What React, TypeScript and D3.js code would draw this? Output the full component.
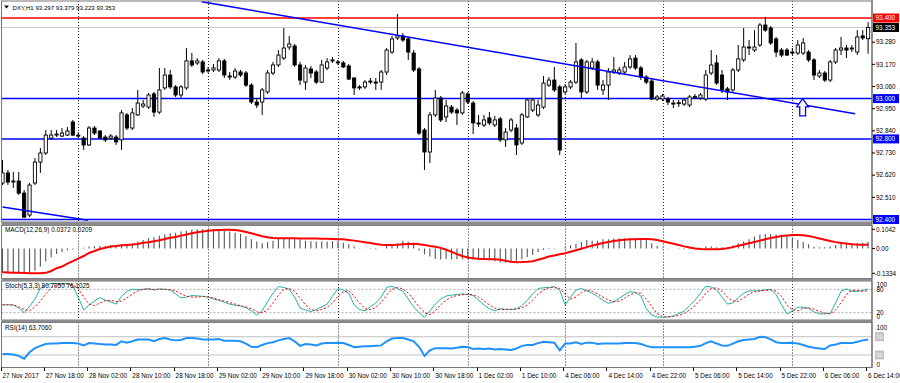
import React from "react";
import * as d3 from "d3";

// ---------- data ----------
const timeLabels = [
  "27 Nov 2017", "27 Nov 18:00", "28 Nov 02:00", "28 Nov 10:00", "28 Nov 18:00",
  "29 Nov 02:00", "29 Nov 10:00", "29 Nov 18:00", "30 Nov 02:00", "30 Nov 10:00",
  "30 Nov 18:00", "1 Dec 02:00", "1 Dec 10:00", "4 Dec 06:00", "4 Dec 14:00",
  "4 Dec 22:00", "5 Dec 06:00", "5 Dec 14:00", "5 Dec 22:00", "6 Dec 06:00", "6 Dec 14:00",
];
const labelStep = 8;
const gridBars = [14, 38, 62, 86, 104, 122, 146];

const opens = [
  92.581, 92.631, 92.586, 92.591, 92.531, 92.422, 92.581, 92.685, 92.730, 92.804,
  92.819, 92.814, 92.819, 92.884, 92.819, 92.804, 92.770, 92.854, 92.839, 92.809,
  92.804, 92.809, 92.795, 92.919, 92.854, 92.919, 92.963, 92.958, 93.023, 92.933,
  93.053, 93.117, 93.058, 93.018, 93.053, 93.187, 93.177, 93.182, 93.142, 93.142,
  93.142, 93.187, 93.112, 93.107, 93.132, 93.127, 93.067, 92.983, 92.983, 93.033,
  93.127, 93.167, 93.201, 93.256, 93.261, 93.167, 93.082, 93.147, 93.132, 93.082,
  93.152, 93.187, 93.182, 93.177, 93.162, 93.102, 93.058, 93.058, 93.087, 93.082,
  93.082, 93.132, 93.231, 93.301, 93.311, 93.296, 93.226, 93.147, 92.844, 92.735,
  92.919, 93.003, 92.909, 92.958, 92.943, 92.929, 93.023, 92.978, 92.879, 92.869,
  92.904, 92.869, 92.899, 92.795, 92.844, 92.854, 92.780, 92.909, 92.943, 92.919,
  92.958, 93.067, 93.092, 93.058, 93.033, 93.058, 93.082, 93.192, 93.033, 93.152,
  93.182, 93.043, 93.067, 93.132, 93.127, 93.132, 93.157, 93.201, 93.152, 93.107,
  93.087, 92.998, 92.998, 92.998, 92.978, 92.978, 92.973, 92.968, 93.008, 93.003,
  92.998, 93.127, 93.177, 93.117, 93.048, 93.043, 93.142, 93.192, 93.256, 93.241,
  93.266, 93.365, 93.350, 93.296, 93.241, 93.241, 93.231, 93.226, 93.226, 93.231,
  93.192, 93.112, 93.127, 93.092, 93.182, 93.241, 93.251, 93.246, 93.231, 93.311,
  93.297,
];
const highs = [
  92.695, 92.646, 92.636, 92.636, 92.546, 92.581, 92.705, 92.755, 92.844, 92.844,
  92.844, 92.854, 92.859, 92.894, 92.834, 92.814, 92.864, 92.864, 92.844, 92.819,
  92.824, 92.819, 92.943, 92.929, 92.953, 93.043, 92.993, 93.028, 93.033, 93.152,
  93.152, 93.142, 93.067, 93.067, 93.251, 93.226, 93.201, 93.192, 93.157, 93.172,
  93.201, 93.197, 93.132, 93.152, 93.142, 93.137, 93.077, 93.003, 93.053, 93.142,
  93.182, 93.241, 93.350, 93.311, 93.271, 93.182, 93.167, 93.162, 93.142, 93.192,
  93.201, 93.206, 93.192, 93.187, 93.172, 93.107, 93.067, 93.092, 93.102, 93.102,
  93.142, 93.251, 93.311, 93.420, 93.326, 93.306, 93.241, 93.157, 92.854, 92.934,
  93.043, 93.013, 92.993, 92.968, 92.953, 93.038, 93.033, 92.988, 92.919, 92.919,
  92.934, 92.914, 92.909, 92.854, 92.904, 92.874, 92.929, 93.003, 93.003, 92.993,
  93.112, 93.107, 93.157, 93.067, 93.072, 93.092, 93.276, 93.201, 93.192, 93.201,
  93.192, 93.092, 93.152, 93.206, 93.157, 93.182, 93.216, 93.216, 93.162, 93.117,
  93.097, 93.018, 93.023, 93.008, 92.993, 92.993, 93.003, 93.018, 93.023, 93.028,
  93.142, 93.241, 93.216, 93.142, 93.058, 93.152, 93.266, 93.350, 93.291, 93.340,
  93.375, 93.405, 93.360, 93.306, 93.251, 93.251, 93.251, 93.291, 93.301, 93.241,
  93.201, 93.142, 93.137, 93.192, 93.251, 93.306, 93.266, 93.266, 93.340, 93.340,
  93.379,
];
const lows = [
  92.571, 92.571, 92.556, 92.522, 92.407, 92.412, 92.571, 92.631, 92.720, 92.795,
  92.809, 92.809, 92.814, 92.814, 92.804, 92.745, 92.765, 92.819, 92.804, 92.785,
  92.795, 92.770, 92.745, 92.844, 92.844, 92.914, 92.953, 92.948, 92.909, 92.924,
  93.043, 93.048, 93.008, 93.003, 93.043, 93.157, 93.167, 93.122, 93.127, 93.132,
  93.132, 93.102, 93.092, 93.097, 93.107, 93.058, 92.973, 92.953, 92.919, 93.023,
  93.117, 93.157, 93.192, 93.241, 93.157, 93.067, 93.043, 93.102, 93.072, 93.077,
  93.142, 93.177, 93.167, 93.152, 93.092, 93.018, 93.043, 93.048, 93.072, 93.043,
  93.043, 93.117, 93.221, 93.291, 93.281, 93.192, 93.132, 92.819, 92.646, 92.680,
  92.909, 92.884, 92.884, 92.924, 92.869, 92.919, 92.973, 92.824, 92.859, 92.859,
  92.869, 92.859, 92.785, 92.760, 92.834, 92.720, 92.770, 92.904, 92.933, 92.909,
  92.948, 93.058, 93.033, 92.720, 93.023, 93.048, 93.072, 93.003, 93.023, 93.142,
  93.043, 93.018, 92.993, 93.122, 93.117, 93.122, 93.147, 93.142, 93.092, 93.072,
  92.993, 92.988, 92.988, 92.968, 92.953, 92.958, 92.963, 92.958, 92.998, 92.993,
  92.988, 93.117, 93.067, 93.028, 92.993, 93.033, 93.132, 93.182, 93.216, 93.231,
  93.256, 93.331, 93.266, 93.206, 93.206, 93.211, 93.216, 93.216, 93.216, 93.182,
  93.092, 93.102, 93.082, 93.082, 93.172, 93.216, 93.201, 93.231, 93.216, 93.291,
  93.223,
];
const closes = [
  92.631, 92.586, 92.591, 92.531, 92.412, 92.571, 92.685, 92.730, 92.819, 92.819,
  92.824, 92.829, 92.839, 92.819, 92.814, 92.770, 92.854, 92.829, 92.804, 92.795,
  92.814, 92.785, 92.929, 92.854, 92.929, 92.978, 92.973, 93.018, 92.933, 93.043,
  93.117, 93.058, 93.018, 93.058, 93.187, 93.167, 93.187, 93.132, 93.140, 93.152,
  93.187, 93.117, 93.110, 93.137, 93.117, 93.067, 92.983, 92.968, 93.043, 93.127,
  93.167, 93.216, 93.251, 93.271, 93.167, 93.092, 93.152, 93.127, 93.082, 93.167,
  93.182, 93.192, 93.177, 93.157, 93.097, 93.053, 93.053, 93.082, 93.085, 93.080,
  93.132, 93.241, 93.296, 93.311, 93.291, 93.231, 93.142, 92.829, 92.735, 92.919,
  93.003, 92.894, 92.963, 92.933, 92.929, 93.028, 92.983, 92.879, 92.874, 92.894,
  92.879, 92.894, 92.795, 92.834, 92.894, 92.770, 92.919, 92.993, 92.993, 92.968,
  93.077, 93.092, 93.043, 92.745, 93.058, 93.082, 93.182, 93.033, 93.182, 93.182,
  93.067, 93.067, 93.132, 93.142, 93.142, 93.157, 93.197, 93.152, 93.107, 93.082,
  92.998, 93.008, 93.013, 92.983, 92.976, 92.980, 92.993, 93.008, 93.010, 93.018,
  93.117, 93.167, 93.077, 93.043, 93.033, 93.142, 93.197, 93.256, 93.254, 93.256,
  93.365, 93.340, 93.276, 93.231, 93.216, 93.216, 93.229, 93.266, 93.276, 93.192,
  93.117, 93.127, 93.092, 93.182, 93.241, 93.251, 93.241, 93.251, 93.306, 93.301,
  93.353,
];

const macdMain = [
  -0.130, -0.131, -0.131, -0.133, -0.1334, -0.131, -0.119, -0.097, -0.070, -0.047,
  -0.029, -0.018, -0.009, -0.005, -0.002, 0.004, 0.011, 0.013, 0.014, 0.014,
  0.018, 0.020, 0.023, 0.025, 0.029, 0.038, 0.047, 0.056, 0.061, 0.070,
  0.077, 0.083, 0.086, 0.092, 0.097, 0.103, 0.1042, 0.104, 0.104, 0.101,
  0.101, 0.097, 0.092, 0.086, 0.079, 0.068, 0.050, 0.038, 0.029, 0.034,
  0.043, 0.052, 0.056, 0.056, 0.054, 0.050, 0.043, 0.040, 0.038, 0.038,
  0.038, 0.040, 0.040, 0.032, 0.023, 0.011, 0.002, 0.002, -0.002, -0.004,
  0.000, 0.014, 0.022, 0.029, 0.043, 0.038, 0.029, -0.012, -0.031, -0.043,
  -0.056, -0.059, -0.056, -0.058, -0.058, -0.058, -0.058, -0.059, -0.061, -0.061,
  -0.063, -0.068, -0.074, -0.076, -0.072, -0.065, -0.058, -0.045, -0.034, -0.018,
  -0.007, -0.004, -0.002, 0.000, 0.007, 0.018, 0.025, 0.036, 0.047, 0.043,
  0.043, 0.050, 0.050, 0.054, 0.056, 0.056, 0.054, 0.054, 0.052, 0.047,
  0.029, 0.014, 0.004, 0.002, 0.000, -0.002, -0.004, -0.004, 0.000, 0.005,
  0.011, 0.011, 0.007, 0.007, 0.007, 0.018, 0.029, 0.038, 0.050, 0.065,
  0.076, 0.079, 0.079, 0.076, 0.068, 0.065, 0.056, 0.047, 0.036, 0.023,
  0.011, 0.007, 0.007, 0.011, 0.020, 0.025, 0.029, 0.029, 0.029, 0.032,
  0.0372,
];
const macdSignal = [
  -0.128, -0.129, -0.130, -0.131, -0.132, -0.133, -0.133, -0.133, -0.131, -0.121,
  -0.106, -0.097, -0.081, -0.068, -0.054, -0.040, -0.023, -0.013, -0.002, 0.005,
  0.011, 0.014, 0.018, 0.020, 0.022, 0.025, 0.031, 0.034, 0.040, 0.045,
  0.052, 0.058, 0.063, 0.070, 0.076, 0.083, 0.088, 0.092, 0.096, 0.099,
  0.101, 0.102, 0.102, 0.100, 0.096, 0.090, 0.083, 0.075, 0.067, 0.061,
  0.057, 0.056, 0.056, 0.056, 0.056, 0.055, 0.055, 0.055, 0.054, 0.053,
  0.053, 0.052, 0.051, 0.050, 0.047, 0.043, 0.039, 0.034, 0.030, 0.025,
  0.021, 0.020, 0.020, 0.021, 0.023, 0.025, 0.026, 0.024, 0.020, 0.014,
  0.010, 0.004, -0.006, -0.018, -0.030, -0.040, -0.048, -0.052, -0.055, -0.056,
  -0.057, -0.058, -0.060, -0.066, -0.071, -0.074, -0.073, -0.071, -0.068, -0.060,
  -0.052, -0.043, -0.037, -0.031, -0.025, -0.017, -0.009, -0.001, 0.008, 0.016,
  0.023, 0.030, 0.036, 0.041, 0.045, 0.048, 0.050, 0.051, 0.052, 0.052,
  0.050, 0.046, 0.040, 0.033, 0.026, 0.019, 0.012, 0.006, 0.001, -0.002,
  -0.003, -0.004, -0.004, -0.002, 0.002, 0.008, 0.015, 0.022, 0.029, 0.036,
  0.043, 0.050, 0.057, 0.063, 0.068, 0.071, 0.073, 0.074, 0.072, 0.068,
  0.062, 0.055, 0.048, 0.041, 0.035, 0.030, 0.027, 0.024, 0.022, 0.021,
  0.0209,
];

const stochK = [
  40, 40, 40, 32, 20, 36, 55, 82, 90, 95,
  95, 95, 95, 88, 60, 27, 40, 50, 59, 52,
  48, 42, 62, 75, 80, 79, 80, 82, 78, 81,
  80, 78, 68, 58, 60, 64, 63, 62, 60, 55,
  52, 47, 42, 39, 37, 33, 25, 14, 25, 48,
  70, 87, 85, 80, 60, 32, 27, 23, 28, 35,
  42, 62, 82, 78, 70, 40, 28, 25, 35, 45,
  60, 85, 88, 82, 75, 55, 35, 20, 8, 25,
  42, 55, 63, 65, 67, 68, 67, 64, 52, 40,
  30, 25, 30, 29, 28, 30, 38, 52, 68, 82,
  84, 85, 87, 78, 40, 60, 78, 82, 76, 70,
  62, 52, 44, 48, 57, 66, 74, 72, 63, 30,
  14, 9, 8, 9, 12, 18, 24, 38, 52, 70,
  88, 86, 78, 60, 42, 45, 58, 70, 76, 76,
  76, 79, 80, 66, 40, 17, 25, 34, 34, 31,
  22, 17, 17, 18, 45, 75, 81, 75, 74, 77,
  80.705,
];
const stochD = [
  40, 41, 40, 35, 28, 25, 35, 50, 68, 85,
  90, 93, 93, 91, 82, 60, 42, 38, 45, 51,
  52, 48, 50, 58, 68, 76, 80, 80, 80, 80,
  80, 79, 76, 69, 62, 60, 60, 62, 60, 58,
  53, 50, 46, 42, 38, 35, 30, 22, 20, 27,
  45, 65, 80, 82, 75, 58, 40, 28, 25, 28,
  34, 45, 62, 74, 77, 62, 45, 30, 28, 34,
  46, 65, 80, 85, 81, 70, 53, 35, 20, 15,
  25, 40, 52, 60, 64, 66, 67, 66, 60, 50,
  40, 32, 28, 28, 29, 29, 32, 40, 52, 68,
  78, 84, 85, 82, 68, 55, 60, 72, 78, 75,
  68, 60, 52, 48, 50, 57, 66, 71, 70, 55,
  36, 18, 10, 9, 10, 13, 18, 27, 38, 53,
  70, 82, 84, 75, 60, 50, 49, 58, 68, 74,
  76, 77, 78, 75, 62, 40, 27, 25, 31, 33,
  29, 23, 19, 17, 27, 46, 67, 77, 77, 75,
  76.1025,
];
const rsi14 = [
  32, 32, 31, 28, 22, 36, 45, 50, 54, 55,
  55, 56, 56, 56, 55, 51, 56, 55, 54, 53,
  53, 52, 60, 57, 60, 64, 64, 64, 60, 65,
  67, 64, 62, 63, 67, 67, 66, 64, 64, 64,
  65, 61, 61, 61, 60, 55, 48, 47, 52, 56,
  58, 62, 65, 67, 60, 50, 54, 53, 51, 55,
  56, 56, 57, 56, 52, 47, 48, 49, 49, 50,
  51, 60, 66, 67, 67, 64, 60, 48, 28, 40,
  45, 45, 45, 44, 46, 48, 47, 43, 44, 43,
  44, 42, 43, 42, 41, 44, 50, 52, 52, 56,
  59, 58, 57, 40, 55, 55, 58, 54, 57, 57,
  54, 55, 55, 55, 55, 56, 56, 56, 54, 50,
  47, 47, 47, 47, 47, 47, 47, 47, 48, 50,
  56, 60, 55, 51, 50, 55, 60, 63, 64, 65,
  70, 69, 64, 58, 56, 56, 57, 55, 52, 48,
  46, 44, 43, 51, 53, 56, 56, 56, 59, 62,
  63.706,
];

const resistanceLevels = [93.4];
const supportLevels = [93.0, 92.8, 92.4];
const priceTicks = [93.28, 93.17, 93.06, 92.95, 92.84, 92.73, 92.62, 92.51];
const trendLineA = [[36.8, 93.481], [157.6, 92.925]];
const trendLineB = [[0, 92.462], [15.8, 92.396]];
const arrowAt = [147.9, 93.0];
const lastPrice = 93.353;
const headerOHLC = [93.297, 93.379, 93.223, 93.353];
const macdAxis = [0.1042, 0, -0.1334];
const stochLevels = [80, 20];
const rsiLevels = [70, 30];

// ---------- layout ----------
const W = 900;
const H = 383;
const PL = 1.5;
const PR = 872;
const FONT = "'Liberation Sans', Arial, sans-serif";
const FS = 6.4;
const P_MAIN = [1, 222];
const P_MACD = [225.5, 278.5];
const P_STOCH = [281, 320];
const P_RSI = [322.5, 367.5];

export default function App() {
  const n = opens.length;
  const idx = d3.range(n);
  const x = d3.scaleLinear().domain([0, 160]).range([2.5, 868.1]);
  const yP = d3.scaleLinear().domain([92.4, 93.4]).range([219.5, 18]);
  const yM = d3.scaleLinear().domain([-0.1334, 0.1042]).range([273.3, 229.3]);
  const yS = d3.scaleLinear().domain([0, 100]).range([320.5, 281.5]);
  const yR = d3.scaleLinear().domain([0, 100]).range([368.7, 323]);
  const f3 = d3.format(".3f");

  const sigLine = d3.line<number>().x((i) => x(i)).y((i) => yM(macdSignal[i]))(idx) || "";
  const kLine = d3.line<number>().x((i) => x(i)).y((i) => yS(stochK[i]))(idx) || "";
  const dLine = d3.line<number>().x((i) => x(i)).y((i) => yS(stochD[i]))(idx) || "";
  const rLine = d3.line<number>().x((i) => x(i)).y((i) => yR(rsi14[i]))(idx) || "";

  const clip = (id: string, p: number[]) => (
    <clipPath id={id}>
      <rect x={PL} y={p[0]} width={PR - PL} height={p[1] - p[0]} />
    </clipPath>
  );

  const grid = (p: number[], key: string) =>
    gridBars.map((b) => (
      <line key={key + b} x1={Math.round(x(b)) + 0.5} x2={Math.round(x(b)) + 0.5} y1={p[0]} y2={p[1]}
        stroke="#222" strokeWidth={1} strokeDasharray="1,2" />
    ));

  const priceBox = (p: number, fill: string, key: string) => (
    <g key={key}>
      <rect x={873} y={yP(p) - 4.5} width={26} height={9} fill={fill} />
      <text x={875.5} y={yP(p) + 2.4} fill="#fff" fontSize={FS} fontFamily={FONT}>{f3(p)}</text>
    </g>
  );

  const [ab, ap] = arrowAt;
  const ax = x(ab);
  const ay = yP(ap);
  const arrowPath = `M${ax},${ay} L${ax + 5.8},${ay + 8.3} L${ax + 2.9},${ay + 8.3} L${ax + 2.9},${ay + 17.3} L${ax - 2.9},${ay + 17.3} L${ax - 2.9},${ay + 8.3} L${ax - 5.8},${ay + 8.3} Z`;

  return (
    <svg width={W} height={H} style={{ position: "absolute", left: 0, top: 0, background: "#fff" }}
      fontFamily={FONT}>
      <defs>
        {clip("cMain", P_MAIN)}
        {clip("cMacd", P_MACD)}
        {clip("cStoch", P_STOCH)}
        {clip("cRsi", P_RSI)}
      </defs>
      <rect x={0} y={0} width={W} height={H} fill="#fff" />

      {/* ---------- main panel ---------- */}
      <g clipPath="url(#cMain)">
        {grid(P_MAIN, "gm")}
        <line x1={PL} x2={PR} y1={yP(lastPrice)} y2={yP(lastPrice)} stroke="#c8c8c8" strokeWidth={1} />
        {resistanceLevels.map((p) => (
          <line key={"r" + p} x1={PL} x2={PR} y1={yP(p)} y2={yP(p)} stroke="#ff0000" strokeWidth={1.5} />
        ))}
        {supportLevels.map((p) => (
          <line key={"s" + p} x1={PL} x2={PR} y1={yP(p)} y2={yP(p)} stroke="#0000ff" strokeWidth={1.5} />
        ))}
        {idx.map((i) => {
          const o = opens[i], c = closes[i];
          const bull = c >= o;
          const top = yP(Math.max(o, c));
          const h = Math.max(1, Math.abs(yP(o) - yP(c)));
          const xc = x(i);
          return (
            <g key={"c" + i}>
              <line x1={xc} x2={xc} y1={yP(highs[i])} y2={yP(lows[i])} stroke="#000" strokeWidth={1} />
              <rect x={xc - 1.6} y={top} width={3.2} height={h}
                fill={bull ? "#fff" : "#000"} stroke="#000" strokeWidth={0.9} />
            </g>
          );
        })}
        {[trendLineA, trendLineB].map((t, k) => (
          <line key={"t" + k} x1={x(t[0][0])} y1={yP(t[0][1])} x2={x(t[1][0])} y2={yP(t[1][1])}
            stroke="#0000ff" strokeWidth={1.5} />
        ))}
        <path d={arrowPath} fill="#fff" stroke="#0000ff" strokeWidth={1.3} />
      </g>
      <path d="M4,5.5 L9,5.5 L6.5,8.5 Z" fill="#000" />
      <text x={12.5} y={9.8} fontSize={6.1}>
        {"DXY,H1  " + headerOHLC.map(f3).join(" ")}
      </text>

      {/* ---------- MACD panel ---------- */}
      <g clipPath="url(#cMacd)">
        {grid(P_MACD, "gd")}
        {idx.map((i) => (
          <line key={"h" + i} x1={x(i)} x2={x(i)} y1={yM(0)} y2={yM(macdMain[i])} stroke="#555" strokeWidth={1.1} />
        ))}
        <path d={sigLine} fill="none" stroke="#ff0000" strokeWidth={2} />
      </g>
      <text x={5} y={232} fontSize={FS}>MACD(12,26,9) 0.0372 0.0209</text>

      {/* ---------- Stochastic panel ---------- */}
      <g clipPath="url(#cStoch)">
        {grid(P_STOCH, "gs")}
        {stochLevels.map((v) => (
          <line key={"sl" + v} x1={PL} x2={PR} y1={yS(v)} y2={yS(v)} stroke="#a8a8a8" strokeWidth={1} strokeDasharray="2,2" />
        ))}
        <path d={kLine} fill="none" stroke="#20b2aa" strokeWidth={1} />
        <path d={dLine} fill="none" stroke="#ff0000" strokeWidth={1} strokeDasharray="2,2" />
      </g>
      <text x={5} y={288.3} fontSize={FS}>Stoch(5,3,3) 80.7050 76.1025</text>

      {/* ---------- RSI panel ---------- */}
      <g clipPath="url(#cRsi)">
        {grid(P_RSI, "gr")}
        {rsiLevels.map((v) => (
          <line key={"rl" + v} x1={PL} x2={PR} y1={yR(v)} y2={yR(v)} stroke="#c0c0c0" strokeWidth={1} />
        ))}
        <path d={rLine} fill="none" stroke="#1e90ff" strokeWidth={2} />
      </g>
      <text x={5} y={330} fontSize={FS}>RSI(14) 63.7060</text>

      {/* ---------- frames & separators ---------- */}
      {[P_MAIN, P_MACD, P_STOCH, P_RSI].map((p, k) => (
        <rect key={"f" + k} x={PL} y={p[0]} width={PR - PL} height={p[1] - p[0]} fill="none" stroke="#777" strokeWidth={1} />
      ))}
      {[[P_MAIN[1], P_MACD[0]], [P_MACD[1], P_STOCH[0]], [P_STOCH[1], P_RSI[0]]].map((s, k) => (
        <rect key={"sep" + k} x={PL} y={s[0]} width={PR - PL} height={s[1] - s[0]} fill="#8c8c8c" />
      ))}
      <line x1={PR} x2={PR} y1={0} y2={P_RSI[1]} stroke="#666" strokeWidth={1} />

      {/* ---------- price axis ---------- */}
      {priceTicks.map((p) => (
        <g key={"pt" + p}>
          <line x1={PR} x2={PR + 3} y1={yP(p)} y2={yP(p)} stroke="#000" />
          <text x={876} y={yP(p) + 2.3} fontSize={FS}>{f3(p)}</text>
        </g>
      ))}
      {resistanceLevels.map((p) => priceBox(p, "#ff0000", "rb" + p))}
      {supportLevels.map((p) => priceBox(p, "#0000ff", "sb" + p))}
      {priceBox(lastPrice, "#000", "last")}

      {/* MACD axis */}
      {macdAxis.map((v) => (
        <g key={"ma" + v}>
          <line x1={PR} x2={PR + 3} y1={yM(v)} y2={yM(v)} stroke="#000" />
          <text x={v < 0 ? 874.5 : 876} y={yM(v) + 2.3} fontSize={FS}>{v === 0 ? "0.00" : String(v)}</text>
        </g>
      ))}

      {/* Stoch axis */}
      <text x={876.5} y={yS(100) + 5.8} fontSize={FS}>100</text>
      {stochLevels.map((v) => (
        <text key={"sa" + v} x={876.5} y={yS(v) + 2.3} fontSize={FS}>{v}</text>
      ))}
      <text x={876.5} y={yS(0) - 1.5} fontSize={FS}>0</text>

      {/* RSI axis */}
      <text x={876.5} y={yR(100) + 6.6} fontSize={FS}>100</text>
      {rsiLevels.map((v) => (
        <g key={"ra" + v}>
          <rect x={875.5} y={yR(v) - 4} width={8} height={8} fill="#c8c8c8" stroke="#a8a8a8" strokeWidth={0.6} />
          <text x={876.3} y={yR(v) + 2.3} fontSize={5.6} fill="#f2f2f2">{v}</text>
        </g>
      ))}
      <text x={876.5} y={yR(0) - 2.1} fontSize={FS}>0</text>

      {/* ---------- time axis ---------- */}
      {timeLabels.map((t, k) => {
        const xb = x(k * labelStep);
        return (
          <g key={"tl" + k}>
            <line x1={Math.round(xb) - 1.5} x2={Math.round(xb) - 1.5} y1={P_RSI[1]} y2={P_RSI[1] + 3.5} stroke="#000" />
            <text x={xb} y={377.5} fontSize={FS}>{t}</text>
          </g>
        );
      })}
    </svg>
  );
}
